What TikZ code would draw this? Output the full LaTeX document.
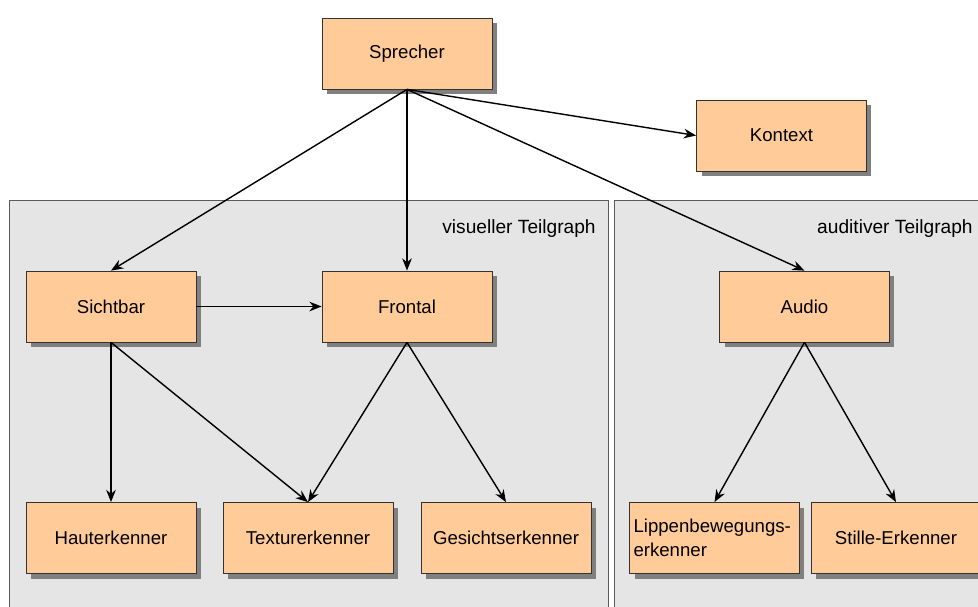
\documentclass[tikz,border=0pt]{standalone}
\usepackage{fontspec}
\setmainfont{Liberation Sans}
\usepackage{tikz}
\usetikzlibrary{arrows.meta, shadows}
\definecolor{boxorange}{RGB}{255, 204, 153}
\definecolor{boxline}{RGB}{50, 50, 50}
\definecolor{panelgray}{RGB}{229, 229, 229}
\definecolor{panelline}{RGB}{90, 90, 90}
\definecolor{shadowgray}{RGB}{128, 128, 128}

\begin{document}
\begin{tikzpicture}[
    x=0.02cm, y=-0.02cm,
    >={Stealth[length=7pt, width=5.5pt]},
    nodebox/.style={draw=boxline, line width=0.45pt, fill=boxorange, align=center,
        minimum width=3.4cm, minimum height=1.42cm, inner sep=0.08cm,
        font=\fontsize{10.6}{13.6}\selectfont,
        general shadow={fill=shadowgray, shadow xshift=0.1cm, shadow yshift=-0.1cm}},
    panel/.style={draw=panelline, line width=0.5pt, fill=panelgray},
    paneltitle/.style={anchor=base east, inner sep=0pt, font=\fontsize{10.9}{13}\selectfont},
    flow/.style={->, line width=0.8pt}
]
    \clip (0,0) rectangle (978,606);

    % Teilgraphen
    \draw[panel] (9,200) rectangle (608,620);
    \draw[panel] (614,200) rectangle (990,620);
    \node[paneltitle] (vislabel) at (596,233) {visueller Teilgraph};
    \node[paneltitle] (audlabel) at (973,233) {auditiver Teilgraph};

    % Knoten
    \node[nodebox] (sprecher) at (407,53.5) {Sprecher};
    \node[nodebox] (kontext) at (781.5,135.5) {Kontext};
    \node[nodebox] (sichtbar) at (111,306.5) {Sichtbar};
    \node[nodebox] (frontal) at (407,306.5) {Frontal};
    \node[nodebox] (audio) at (804.5,306.5) {Audio};
    \node[nodebox] (haut) at (111,538) {Hauterkenner};
    \node[nodebox] (textur) at (308,538) {Texturerkenner};
    \node[nodebox] (gesicht) at (506,538) {Gesichtserkenner};
    \node[nodebox, align=left, text width=3.24cm] (lippen) at (714.5,538)
        {Lippenbewegungs-\\erkenner};
    \node[nodebox] (stille) at (896,538) {Stille-Erkenner};

    % Kanten
    \draw[flow] (sprecher.south) -- (sichtbar.north);
    \draw[flow] (sprecher.south) -- (frontal.north);
    \draw[flow] (sprecher.south) -- (audio.north);
    \draw[flow] (sprecher.south) -- (kontext.west);
    \draw[flow] (sichtbar.east) -- (frontal.west);
    \draw[flow] (sichtbar.south) -- (haut.north);
    \draw[flow] (sichtbar.south) -- (textur.north);
    \draw[flow] (frontal.south) -- (textur.north);
    \draw[flow] (frontal.south) -- (gesicht.north);
    \draw[flow] (audio.south) -- (lippen.north);
    \draw[flow] (audio.south) -- (stille.north);
\end{tikzpicture}
\end{document}
